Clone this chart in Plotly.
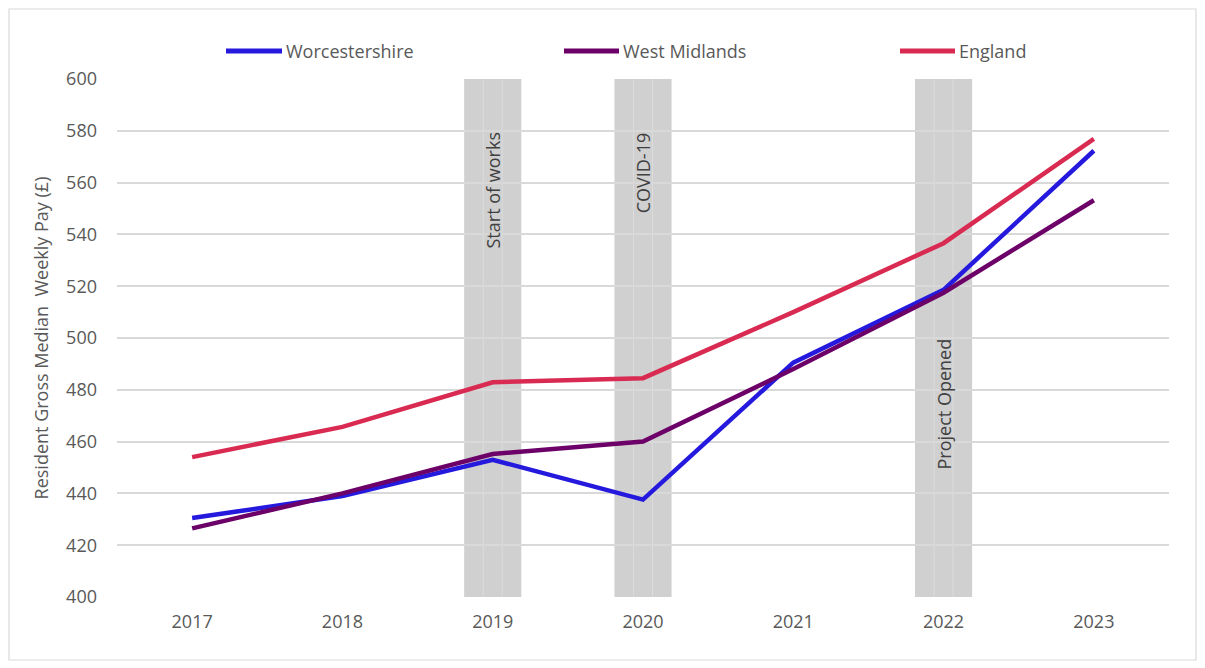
import plotly.graph_objects as go

years = ["2017", "2018", "2019", "2020", "2021", "2022", "2023"]
worcestershire = [430.5, 439.0, 453.0, 437.6, 490.5, 518.6, 572.3]
west_midlands = [426.5, 440.0, 455.2, 460.0, 488.0, 517.5, 553.2]
england = [454.0, 465.7, 482.9, 484.5, 510.0, 536.6, 576.9]

event_years = ["2019", "2020", "2022"]
event_labels = ["Start of works", "COVID-19", "Project Opened"]

series = [
    ("Worcestershire", worcestershire, "#2519DE"),
    ("West Midlands", west_midlands, "#6C0068"),
    ("England", england, "#D92B52"),
]

OFF = 8  # page body offset
W, H = 1205 - OFF, 668 - OFF
ML, MR, MT, MB = 117 - OFF, 36, 79 - OFF, 71
PW, PH = W - ML - MR, H - MT - MB

def px_x(p):
    return (p - OFF - ML) / PW

def px_y(p):
    return (H + OFF - MB - p) / PH

FONT = "Open Sans"
FS = 18
fig = go.Figure()

for name, vals, col in series:
    fig.add_trace(go.Scatter(x=years, y=vals, name=name, mode="lines",
                             line=dict(color=col, width=4.5), showlegend=False))

shapes = []
half = 0.19
for ev in event_years:
    i = years.index(ev)
    shapes.append(dict(type="rect", xref="x", yref="y", x0=i - half, x1=i + half,
                       y0=400, y1=600, fillcolor="#D0D0D0", line=dict(width=0), layer="below"))
    for k in (-1, 1):
        xi = i + k * half / 3
        shapes.append(dict(type="line", xref="x", yref="y", x0=xi, x1=xi, y0=400, y1=600,
                           line=dict(color="#DCDCDC", width=1), layer="below"))

annotations = []
for ev, lab in zip(event_years, event_labels):
    i = years.index(ev)
    if lab == "Project Opened":
        annotations.append(dict(x=i, y=448.5, xref="x", yref="y", text=lab, textangle=-90,
                                showarrow=False, yanchor="bottom", xanchor="center",
                                font=dict(family=FONT, size=FS, color="#404040")))
    else:
        annotations.append(dict(x=i, y=580, xref="x", yref="y", text=lab, textangle=-90,
                                showarrow=False, yanchor="top", xanchor="center",
                                font=dict(family=FONT, size=FS, color="#404040")))

# custom legend
leg_pos = [(226, 282), (564, 619), (900, 955)]
ly = px_y(51)
for (name, vals, col), (a, b) in zip(series, leg_pos):
    shapes.append(dict(type="line", xref="paper", yref="paper", x0=px_x(a), x1=px_x(b),
                       y0=ly, y1=ly, line=dict(color=col, width=5)))
    annotations.append(dict(x=px_x(b + 2), y=ly, xref="paper", yref="paper", text=name,
                            showarrow=False, xanchor="left", yanchor="middle",
                            font=dict(family=FONT, size=FS, color="#595959")))

# outer border
shapes.append(dict(type="rect", xref="paper", yref="paper", x0=px_x(9), x1=px_x(1196),
                   y0=px_y(660), y1=px_y(9), line=dict(color="#D9D9D9", width=1.2),
                   fillcolor="rgba(0,0,0,0)", layer="below"))

fig.update_layout(
    width=W, height=H,
    margin=dict(l=ML, r=MR, t=MT, b=MB),
    paper_bgcolor="white", plot_bgcolor="white",
    font=dict(family=FONT, size=FS, color="#595959"),
    shapes=shapes, annotations=annotations, showlegend=False,
    xaxis=dict(type="category", categoryorder="array", categoryarray=years,
               showgrid=False, showline=False, ticks="", ticklabelstandoff=12,
               tickfont=dict(size=FS, color="#595959"), range=[-0.5, 6.5]),
    yaxis=dict(range=[400, 600], dtick=20, showgrid=True, gridcolor="#D9D9D9", gridwidth=1.5,
               zeroline=False, showline=False, ticks="",
               tickfont=dict(size=FS, color="#595959"), ticklabelstandoff=19,
               title=dict(text="Resident Gross Median  Weekly Pay (£)", standoff=12,
                          font=dict(size=FS, color="#595959"))),
)

fig.write_html("out.html")
